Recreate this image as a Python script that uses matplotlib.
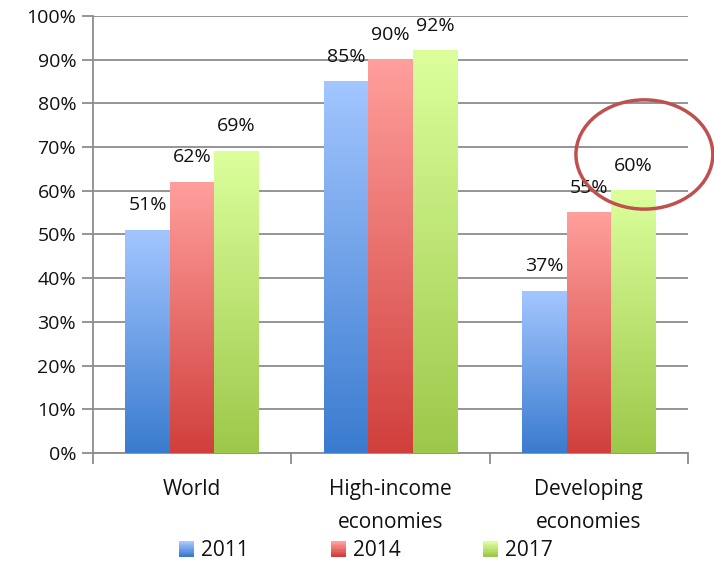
import matplotlib
matplotlib.use('Agg')
import matplotlib.pyplot as plt
from matplotlib.colors import LinearSegmentedColormap, to_rgb
from matplotlib.legend_handler import HandlerBase
from matplotlib.patches import Ellipse, Rectangle
import numpy as np

plt.rcParams['font.family'] = ['Open Sans', 'DejaVu Sans']

categories = ['World', 'High-income\neconomies', 'Developing\neconomies']
years = ['2011', '2014', '2017']
values = {
    '2011': [51, 85, 37],
    '2014': [62, 90, 55],
    '2017': [69, 92, 60],
}
yticks = [0, 10, 20, 30, 40, 50, 60, 70, 80, 90, 100]

# (top, bottom) gradient colours per series
grads = {
    '2011': ('#a3c6ff', '#3a7bcf'),
    '2014': ('#ff9f9c', '#d03f3c'),
    '2017': ('#dcff9c', '#9cc84a'),
}

bar_w = 0.224
offsets = [-bar_w, 0, bar_w]


def gradient_bar(ax, x, h, top, bottom):
    cmap = LinearSegmentedColormap.from_list('g', [bottom, top])
    grad = np.linspace(0, 1, 256).reshape(-1, 1)
    ax.imshow(grad, extent=[x - bar_w / 2, x + bar_w / 2, 0, h], origin='lower',
              cmap=cmap, aspect='auto', zorder=3, interpolation='bicubic')


class GradientHandler(HandlerBase):
    def create_artists(self, legend, orig_handle, xdescent, ydescent,
                       width, height, fontsize, trans):
        top, bottom = orig_handle.grad
        t, b = np.array(to_rgb(top)), np.array(to_rgb(bottom))
        side = height * 1.0
        x0 = -xdescent + width - side
        n = 12
        artists = []
        for i in range(n):
            f = i / (n - 1)
            c = b + (t - b) * f
            artists.append(Rectangle((x0, -ydescent + side * i / n), side, side / n + 0.2,
                                     facecolor=c, edgecolor='none', transform=trans))
        return artists


fig = plt.figure(figsize=(7.14, 5.62), dpi=100)
ax = fig.add_axes([0.130, 0.194, 0.8336, 0.7776])

x = np.arange(len(categories))
handles = []
for yr, off in zip(years, offsets):
    top, bottom = grads[yr]
    for xi, v in zip(x, values[yr]):
        gradient_bar(ax, xi + off, v, top, bottom)
        ax.annotate(f'{v}%', (xi + off, v), xytext=(0, 18), textcoords='offset points',
                    ha='center', va='center', fontsize=14, color='#111111', zorder=5)
    h = Rectangle((0, 0), 1, 1)
    h.grad = (top, bottom)
    handles.append(h)

ax.set_xlim(-0.5, 2.5)
ax.set_ylim(0, 100)
ax.set_yticks(yticks)
ax.set_yticklabels([f'{t}%' for t in yticks], fontsize=14, color='#111111')
ax.yaxis.grid(True, color='#8c8c8c', linewidth=1.3, zorder=0)
ax.set_axisbelow(True)

# category boundaries carry the tick marks, names sit at the centres
ax.set_xticks([-0.5, 0.5, 1.5, 2.5])
ax.set_xticklabels([])
ax.set_xticks(x, minor=True)
ax.set_xticklabels(categories, minor=True, fontsize=15, linespacing=1.7, color='#111111')
ax.tick_params(axis='x', which='minor', length=0, pad=19)
ax.tick_params(axis='x', which='major', length=8, width=1.3, color='#8c8c8c')
ax.tick_params(axis='y', length=8, width=1.3, color='#8c8c8c', pad=4)

for side in ['top', 'right']:
    ax.spines[side].set_visible(False)
for side in ['left', 'bottom']:
    ax.spines[side].set_color('#8c8c8c')
    ax.spines[side].set_linewidth(1.3)

# highlight around the latest developing-economies value
ring = Ellipse((2.28, 68.3), 0.69, 25, fill=False, edgecolor='#c0504d',
               linewidth=2.5, clip_on=False, zorder=6)
ax.add_patch(ring)

fig.legend(handles, years, handler_map={Rectangle: GradientHandler()},
           loc='center', bbox_to_anchor=(0.512, 0.02), ncol=3, frameon=False,
           fontsize=15, handlelength=0.75, handleheight=0.75, handletextpad=0.3,
           columnspacing=3.95, labelcolor='#111111')

fig.savefig('out.png', dpi=100)
